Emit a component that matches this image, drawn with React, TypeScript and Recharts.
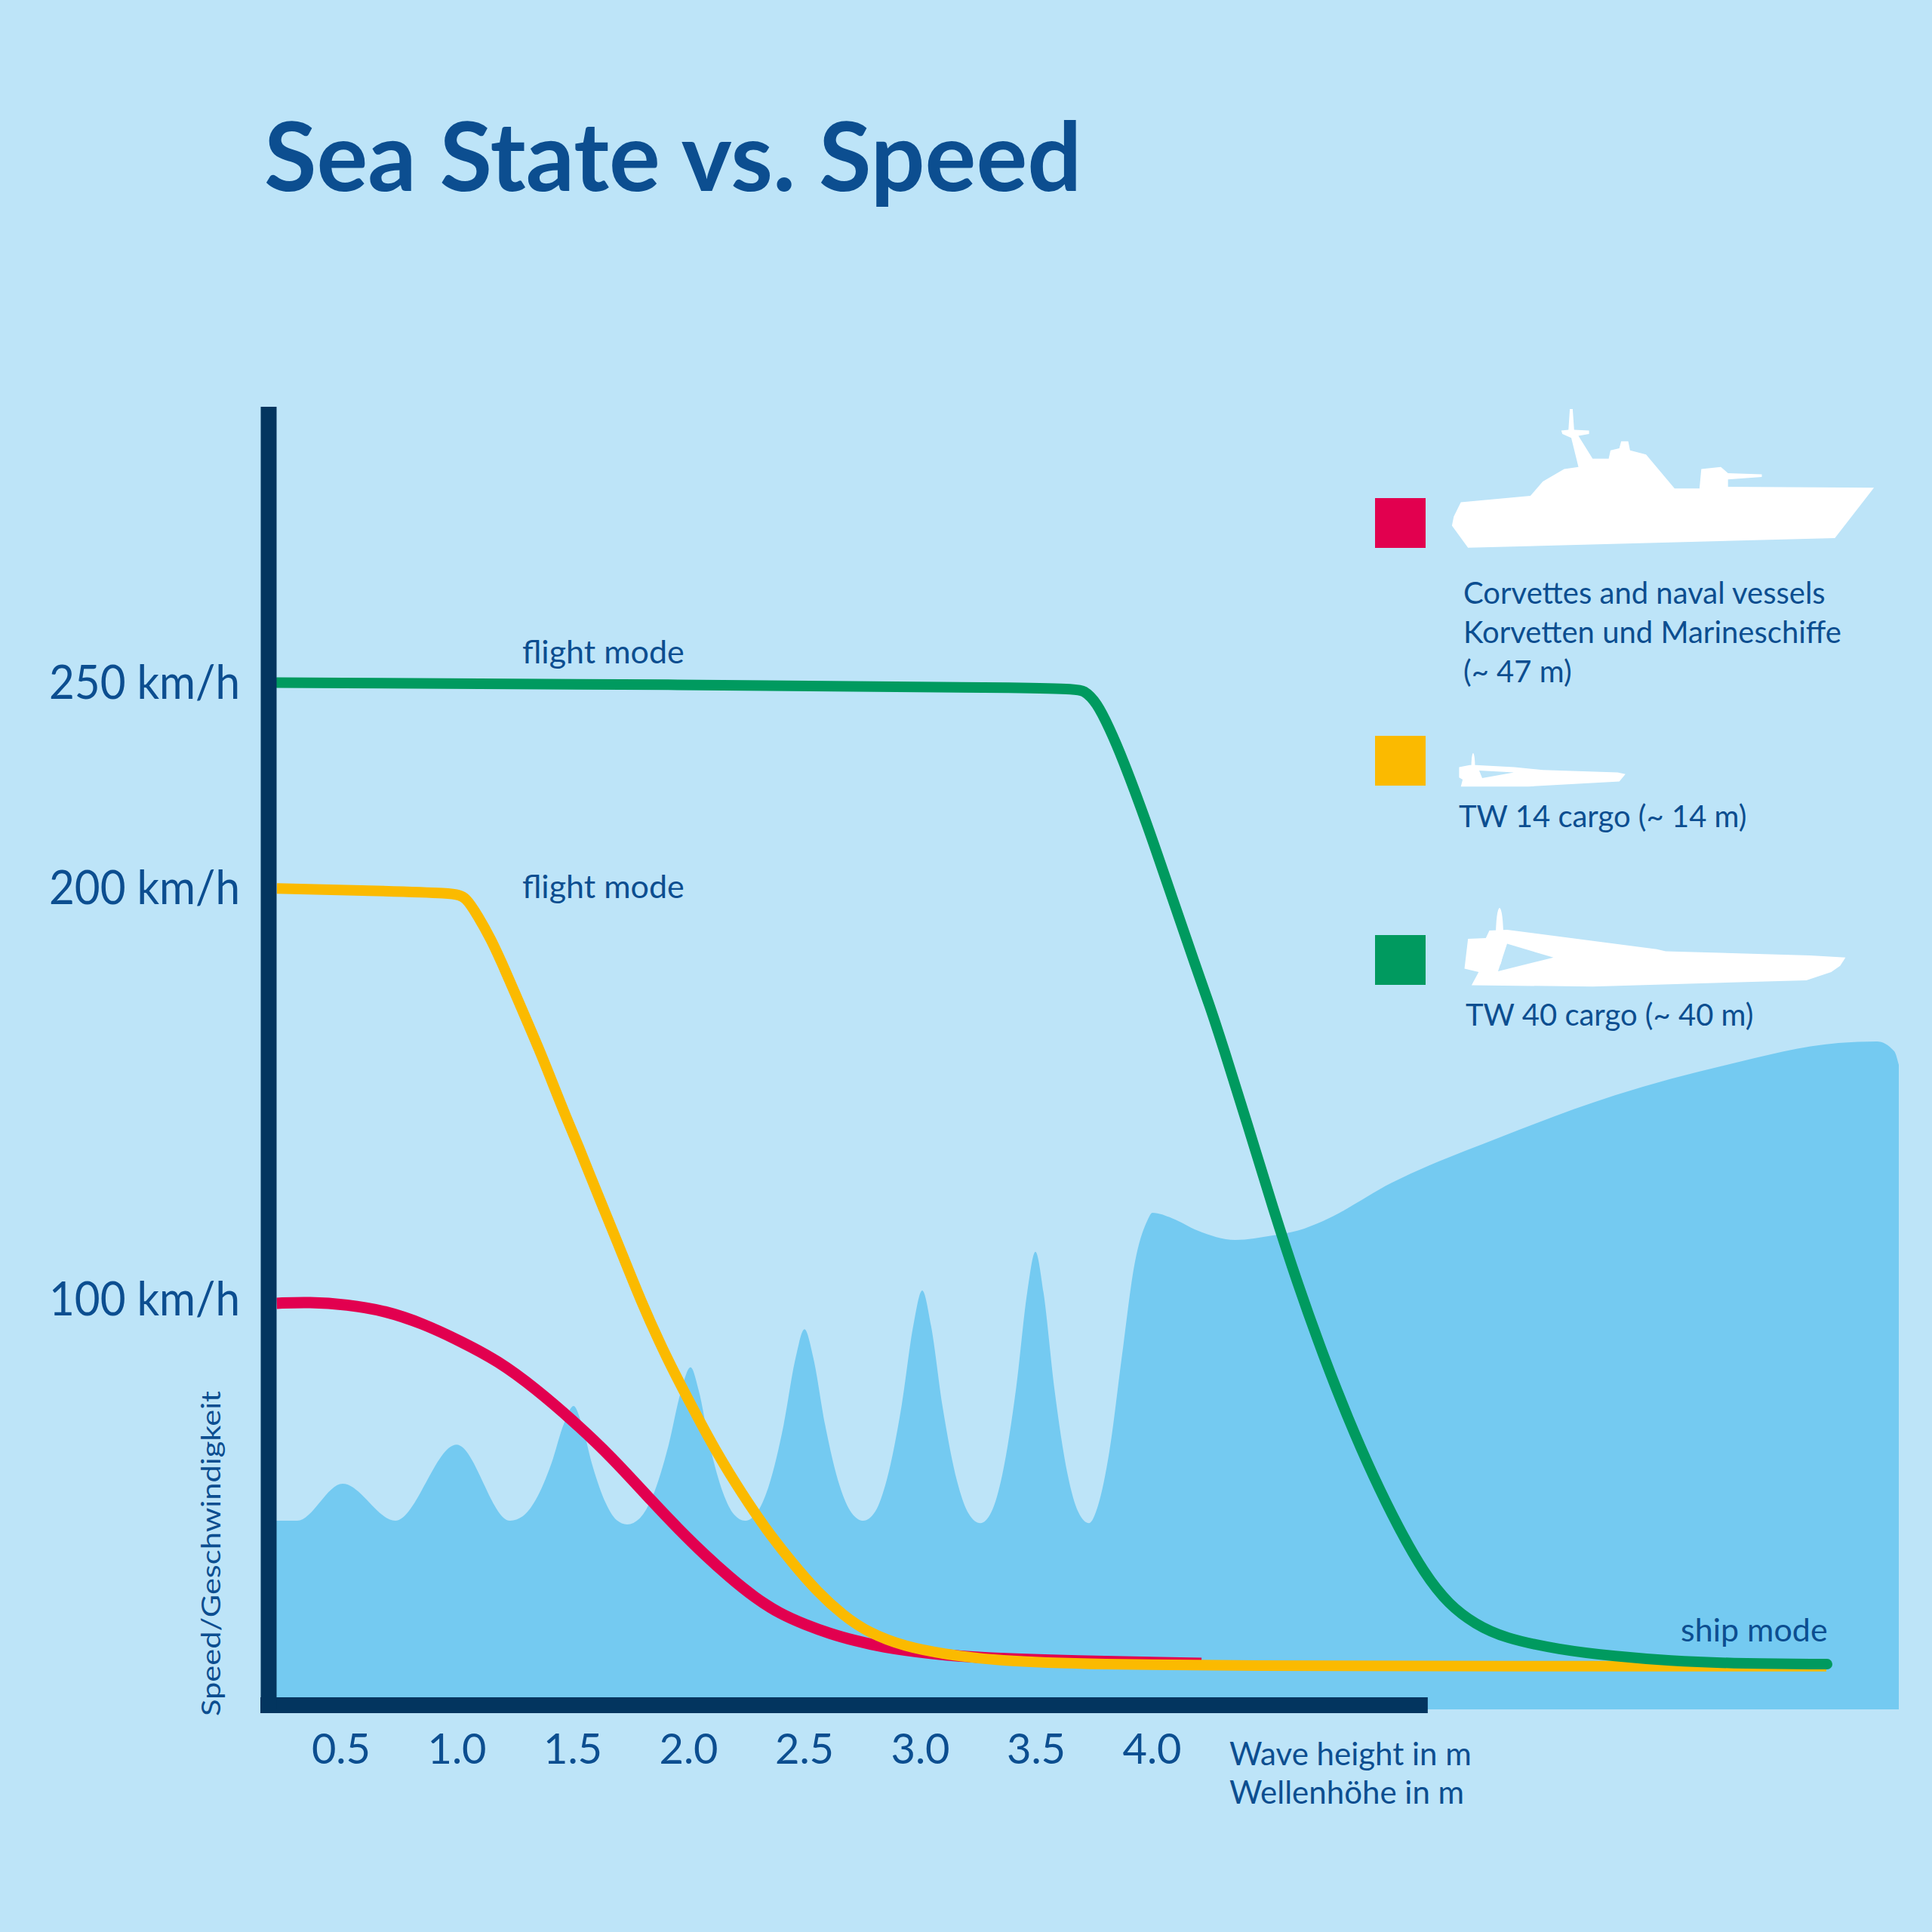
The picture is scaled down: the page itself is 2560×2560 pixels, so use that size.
import { ComposedChart, Area, Line, XAxis, YAxis, ReferenceLine, ReferenceDot } from 'recharts'

const BG = '#bde4f8'
const SEA = '#74caf1'
const NAVY = '#03355f'
const INK = '#0c4e90'
const RED = '#e2004f'
const YELLOW = '#fbba00'
const GREEN = '#009a5f'
const FONT = 'Lato, "Open Sans", sans-serif'

// x = wave height in m, y = speed in km/h
const waveTicks = [0.5, 1.0, 1.5, 2.0, 2.5, 3.0, 3.5, 4.0]
const speedTicks = [100, 200, 250]
const AXIS_START = 0.1515
const AXIS_END = 5.19

const corvettes: [number, number][] = [
  [0.2221, 98.8], [0.3632, 99.1], [0.5261, 98.5], [0.6889, 97.0], [0.8518, 93.9], [1.0147, 89.6],
  [1.1775, 84.8], [1.3404, 78.0], [1.5033, 70.1], [1.6661, 61.5], [1.8518, 50.0], [1.9593, 43.7],
  [2.0668, 37.7], [2.1775, 32.1], [2.285, 27.2], [2.3925, 23.3], [2.5033, 20.6], [2.6107, 18.4],
  [2.7182, 16.7], [2.829, 15.2], [3.044, 13.5], [3.2622, 12.5], [3.6531, 11.8], [4.2134, 11.2],
]

const tw14: [number, number][] = [
  [0.2231, 199.7], [0.6238, 199.2], [0.9919, 198.6], [1.0375, 197.7], [1.0896, 193.1], [1.145, 187.6],
  [1.2003, 180.8], [1.2524, 174.0], [1.3078, 166.7], [1.3632, 159.4], [1.4153, 152.0], [1.4707, 144.1],
  [1.5261, 136.8], [1.5782, 129.4], [1.6336, 121.7], [1.6889, 114.2], [1.7964, 98.9], [1.9039, 85.6],
  [2.0147, 73.6], [2.1221, 62.3], [2.2296, 52.5], [2.3404, 43.3], [2.4479, 35.6], [2.5554, 28.6],
  [2.6661, 22.9], [2.7736, 18.7], [2.9365, 15.2], [3.0993, 13.5], [3.3176, 11.8], [3.7801, 10.9],
  [4.3697, 10.6], [5.5423, 10.5], [6.9104, 10.5],
]

const tw40: [number, number][] = [
  [0.2231, 249.8], [1.9593, 249.3], [3.6531, 248.5], [3.7075, 248.0], [3.7616, 244.9], [3.816, 238.7],
  [3.8704, 231.7], [3.9788, 215.4], [4.0873, 197.4], [4.1961, 179.5], [4.2502, 171.0], [4.3046, 161.6],
  [4.413, 142.2], [4.5218, 121.9], [4.6303, 103.2], [4.7388, 86.1], [4.8476, 70.5], [4.956, 56.5],
  [5.0645, 44.1], [5.1733, 33.2], [5.2818, 25.4], [5.3958, 20.7], [5.5163, 17.4], [5.7573, 14.5],
  [5.9984, 12.9], [6.2394, 11.8], [6.4805, 11.2], [6.9137, 11.0],
]

// sea surface drawn behind the curves
const seaSurface: [number, number][] = [
  [0.22, 45.9], [0.311, 45.9], [0.5065, 54.9], [0.7345, 45.9], [0.9984, 64.4], [1.2296, 45.9],
  [1.2844, 47.0], [1.3391, 50.9], [1.4075, 59.8], [1.4622, 69.6], [1.5033, 73.8],
  [1.5381, 69.5], [1.5844, 59.4], [1.642, 50.2], [1.6883, 46.1], [1.7345, 45.0],
  [1.7893, 46.5], [1.844, 51.8], [1.9124, 64.1], [1.9671, 77.4], [2.0081, 83.2],
  [2.0433, 77.6], [2.0902, 64.5], [2.1489, 52.6], [2.1958, 47.4], [2.2427, 45.9],
  [2.2941, 47.8], [2.3456, 54.3], [2.4101, 69.2], [2.4616, 85.5], [2.5, 92.5],
  [2.5381, 85.5], [2.5889, 69.2], [2.6524, 54.3], [2.7033, 47.8], [2.7541, 45.9],
  [2.8049, 48.1], [2.8557, 56.0], [2.9192, 73.9], [2.97, 93.5], [3.0081, 101.9],
  [3.0459, 93.4], [3.0961, 73.6], [3.1586, 55.5], [3.2088, 47.6], [3.259, 45.3],
  [3.3065, 48.0], [3.3541, 57.2], [3.4137, 78.3], [3.4612, 101.4], [3.4967, 111.3],
  [3.5316, 101.4], [3.5779, 78.3], [3.6355, 57.2], [3.6818, 48.0], [3.728, 45.3],
  [3.7671, 49.6], [3.816, 62.8], [3.8704, 86.1], [3.9235, 108.0], [3.9788, 118.8], [4.0016, 120.8],
  [4.0863, 119.5], [4.1961, 116.5], [4.359, 114.2], [4.5218, 115.3], [4.6303, 116.5], [4.7378, 118.8],
  [5.0342, 128.1], [5.5163, 139.5], [5.9984, 149.4], [6.4805, 156.8], [6.9625, 162.1],
  [7.1287, 162.5], [7.2036, 160.1], [7.2231, 156.8],
]

const toRows = (pts: [number, number][]) => pts.map(([x, y]) => ({ x, y }))

function SpeedTick({ x, y, payload }: any) {
  return (
    <text
      x={x}
      y={y}
      dy="0.36em"
      textAnchor="end"
      fontFamily={FONT}
      fontSize={62}
      fill={INK}
      textLength={253}
      lengthAdjust="spacingAndGlyphs"
    >
      {payload.value} km/h
    </text>
  )
}

function WaveTick({ x, y, payload }: any) {
  return (
    <text x={x} y={y + 72} textAnchor="middle" fontFamily={FONT} fontSize={56} fill={INK}>
      {payload.value.toFixed(1)}
    </text>
  )
}

const modeLabel = (text: string) => (props: any) => (
  <text x={props.cx} y={props.cy} fontFamily={FONT} fontSize={43} fill={INK}>
    {text}
  </text>
)

function Corvette() {
  return (
    <svg width={580} height={200} style={{ position: 'absolute', left: 1915, top: 535 }}>
      <polygon
        fill="#fff"
        points="20.7,130.4 112.8,122.1 129.3,102.9 157.6,86.5 176.5,83.7 167,45.3 155.2,39.9 153.8,35.5 163.3,34.4 165.1,6.9 168.9,6.9 170.8,34.4 190.6,35.5 190.6,39.9 176.5,42.6 195.3,72.8 216.6,72.8 219,61.8 230.7,59 233.1,49.7 242.5,49.7 244.9,61.8 266.1,67.3 303.9,112.3 336.9,112.3 339.3,86.5 365.2,83.7 374.7,92 419.5,93.6 419.5,96.9 374.7,100.2 374.7,110.1 568.1,111.2 516.3,178.1 30.2,190.7 8.9,161.6 11.3,149.6"
      />
    </svg>
  )
}

function Tw14() {
  return (
    <svg width={230} height={50} style={{ position: 'absolute', left: 1930, top: 995 }}>
      <polygon
        fill="#fff"
        points="3.4,21.4 17.5,18.7 20.3,18.7 25.6,18.7 76.5,21.4 114.3,25.3 213.4,28.6 223.8,30.8 215.7,40.6 95.4,47.2 5.7,47.2 8.1,37.9 3.4,35.2"
      />
      <ellipse cx={22} cy={22} rx={2.5} ry={19} fill="#fff" />
      <polygon fill={BG} points="30,26 76,28.5 34,36" />
    </svg>
  )
}

function Tw40() {
  return (
    <svg width={520} height={110} style={{ position: 'absolute', left: 1935, top: 1200 }}>
      <polygon
        fill="#fff"
        points="5.5,83.6 10.2,44.1 33.8,43 38.5,33.1 62.1,32 260.3,57.8 272.1,60.5 463.2,66 510.4,68.8 503.3,79.7 491.5,88 458.5,99 175.3,107.2 14.9,105.5 24.3,88"
      />
      <polygon fill={BG} points="62,50.6 123.4,68.8 50,86.9" />
      <ellipse cx={52} cy={41} rx={5} ry={38} fill="#fff" />
    </svg>
  )
}

const legendItems = [
  { color: RED, top: 660, ship: <Corvette />, lines: ['Corvettes and naval vessels', 'Korvetten und Marineschiffe', '(~ 47 m)'], textX: 1939, textY: 800 },
  { color: YELLOW, top: 975, ship: <Tw14 />, lines: ['TW 14 cargo (~ 14 m)'], textX: 1933, textY: 1096 },
  { color: GREEN, top: 1239, ship: <Tw40 />, lines: ['TW 40 cargo (~ 40 m)'], textX: 1942, textY: 1359 },
]

export default function App() {
  return (
    <div style={{ position: 'absolute', left: 0, top: 0, width: 2560, height: 2560, background: BG, overflow: 'hidden' }}>
      <div style={{ position: 'absolute', left: 0, top: 0 }}>
        <ComposedChart width={2560} height={2560} margin={{ top: 539, right: 42, bottom: 265, left: 296 }}>
          <XAxis
            type="number"
            dataKey="x"
            domain={[0.1873, 7.2296]}
            ticks={waveTicks}
            tick={<WaveTick />}
            tickSize={0}
            tickMargin={0}
            axisLine={false}
            tickLine={false}
            height={30}
          />
          <YAxis
            type="number"
            dataKey="y"
            domain={[0, 316.9]}
            ticks={speedTicks}
            tick={<SpeedTick />}
            tickSize={0}
            tickMargin={38}
            tickLine={false}
            axisLine={{ stroke: NAVY, strokeWidth: 21 }}
            width={60}
          />
          <Area
            data={toRows(seaSurface)}
            dataKey="y"
            type="monotone"
            fill={SEA}
            fillOpacity={1}
            stroke="none"
            baseValue={0}
            isAnimationActive={false}
          />
          <Line data={toRows(corvettes)} dataKey="y" type="basis" stroke={RED} strokeWidth={15} dot={false} activeDot={false} isAnimationActive={false} />
          <Line data={toRows(tw14)} dataKey="y" type="basis" stroke={YELLOW} strokeWidth={14} dot={false} activeDot={false} isAnimationActive={false} />
          <Line data={toRows(tw40)} dataKey="y" type="basis" stroke={GREEN} strokeWidth={14} strokeLinecap="round" dot={false} activeDot={false} isAnimationActive={false} />
          <ReferenceLine
            segment={[{ x: AXIS_START, y: 1 }, { x: AXIS_END, y: 1 }]}
            stroke={NAVY}
            strokeWidth={21}
            ifOverflow="visible"
          />
          <ReferenceDot x={1.2818} y={254.5} r={0} shape={modeLabel('flight mode')} />
          <ReferenceDot x={1.2818} y={197.4} r={0} shape={modeLabel('flight mode')} />
          <ReferenceDot x={6.2818} y={16.5} r={0} shape={modeLabel('ship mode')} />
        </ComposedChart>
      </div>

      {legendItems.map((item) => (
        <div key={item.color}>
          <div style={{ position: 'absolute', left: 1822, top: item.top, width: 67, height: 66, background: item.color }} />
          {item.ship}
        </div>
      ))}

      <svg width={2560} height={2560} style={{ position: 'absolute', left: 0, top: 0, pointerEvents: 'none' }}>
        <text x={350} y={253} fontFamily={FONT} fontWeight={700} fontSize={127} fill={INK}>
          Sea State vs. Speed
        </text>
        {legendItems.map((item) =>
          item.lines.map((line, i) => (
            <text key={line} x={item.textX} y={item.textY + i * 52} fontFamily={FONT} fontSize={40} fill={INK}>
              {line}
            </text>
          ))
        )}
        <text x={1629} y={2339} fontFamily={FONT} fontSize={42} fill={INK}>Wave height in m</text>
        <text x={1629} y={2390} fontFamily={FONT} fontSize={42} fill={INK}>Wellenhöhe in m</text>
        <text
          x={0}
          y={0}
          transform="translate(292 2274) rotate(-90)"
          fontFamily={FONT}
          fontSize={35}
          fill={INK}
          textLength={431}
          lengthAdjust="spacingAndGlyphs"
        >
          Speed/Geschwindigkeit
        </text>
      </svg>
    </div>
  )
}
